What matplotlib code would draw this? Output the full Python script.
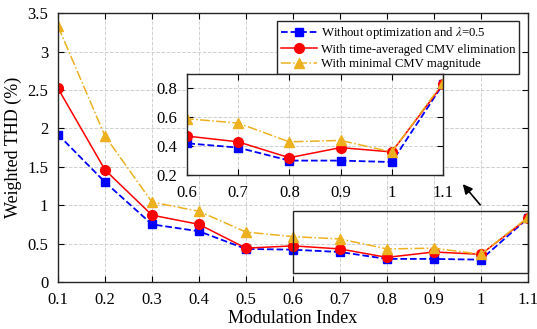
import matplotlib.pyplot as plt
from matplotlib.patches import Rectangle, FancyArrowPatch

plt.rcParams['font.family'] = ['Liberation Serif', 'DejaVu Serif']
plt.rcParams['mathtext.fontset'] = 'stix'

m = [0.1, 0.2, 0.3, 0.4, 0.5, 0.6, 0.7, 0.8, 0.9, 1.0, 1.1]
thd_none = [1.92, 1.30, 0.75, 0.66, 0.43, 0.42, 0.39, 0.30, 0.30, 0.29, 0.83]
thd_avg = [2.52, 1.46, 0.87, 0.75, 0.44, 0.47, 0.43, 0.32, 0.39, 0.36, 0.83]
thd_min = [3.33, 1.90, 1.04, 0.92, 0.65, 0.59, 0.56, 0.43, 0.44, 0.36, 0.84]
labels = ['Without optimization and $\\lambda$=0.5',
          'With time-averaged CMV elimination',
          'With minimal CMV magnitude']

c_blue, c_red, c_yel = '#0000FF', '#FF0000', '#EDB120'


def draw(ax):
    ax.plot(m, thd_none, '--s', color=c_blue, lw=1.3, ms=6, label=labels[0])
    ax.plot(m, thd_avg, '-o', color=c_red, lw=1.1, ms=7, label=labels[1])
    ax.plot(m, thd_min, '-.^', color=c_yel, lw=1.1, ms=7.5, label=labels[2])
    ax.grid(True, ls='--', color='#d0d0d0', lw=0.7)
    ax.tick_params(direction='in', top=True, right=True, labelsize=12, length=4, pad=7)
    for s in ax.spines.values():
        s.set_linewidth(1.0)
        s.set_color('#262626')


fig = plt.figure(figsize=(5.37, 3.29), dpi=100)
ax = fig.add_axes([0.108, 0.143, 0.875, 0.817])
draw(ax)
ax.set_xlim(0.1, 1.1)
ax.set_ylim(0, 3.5)
ax.set_xticks(m)
ax.set_xticklabels(['0.1', '0.2', '0.3', '0.4', '0.5', '0.6', '0.7', '0.8', '0.9', '1', '1.1'])
ax.set_yticks([0, 0.5, 1, 1.5, 2, 2.5, 3, 3.5])
ax.set_yticklabels(['0', '0.5', '1', '1.5', '2', '2.5', '3', '3.5'])
ax.set_xlabel('Modulation Index', fontsize=13, labelpad=2)
ax.set_ylabel('Weighted THD (%)', fontsize=13, labelpad=4)
leg = ax.legend(loc='upper right', bbox_to_anchor=(0.981, 0.97), borderaxespad=0,
                fontsize=9.2, fancybox=False, edgecolor='#262626', framealpha=1,
                borderpad=0.3, labelspacing=0.2, handlelength=2.8, handletextpad=0.3)
leg.get_frame().set_linewidth(1.0)
leg.set_zorder(10)
ax.add_patch(Rectangle((0.6, 0.12), 0.5, 0.8, fill=False, ec='#262626', lw=1.0,
                       zorder=5, clip_on=False))

ins = fig.add_axes([0.348, 0.468, 0.477, 0.307])
draw(ins)
ins.set_xlim(0.6, 1.1)
ins.set_ylim(0.2, 0.9)
ins.set_xticks(m[5:])
ins.set_xticklabels(['0.6', '0.7', '0.8', '0.9', '1', '1.1'])
ins.set_yticks([0.2, 0.4, 0.6, 0.8])
ins.set_yticklabels(['0.2', '0.4', '0.6', '0.8'])

fig.patches.append(FancyArrowPatch(
    (482 / 537, 1 - 207 / 329), (461 / 537, 1 - 182 / 329),
    transform=fig.transFigure, arrowstyle='-|>', mutation_scale=14, color='k', lw=1.2))

fig.savefig('out.png', dpi=100)
